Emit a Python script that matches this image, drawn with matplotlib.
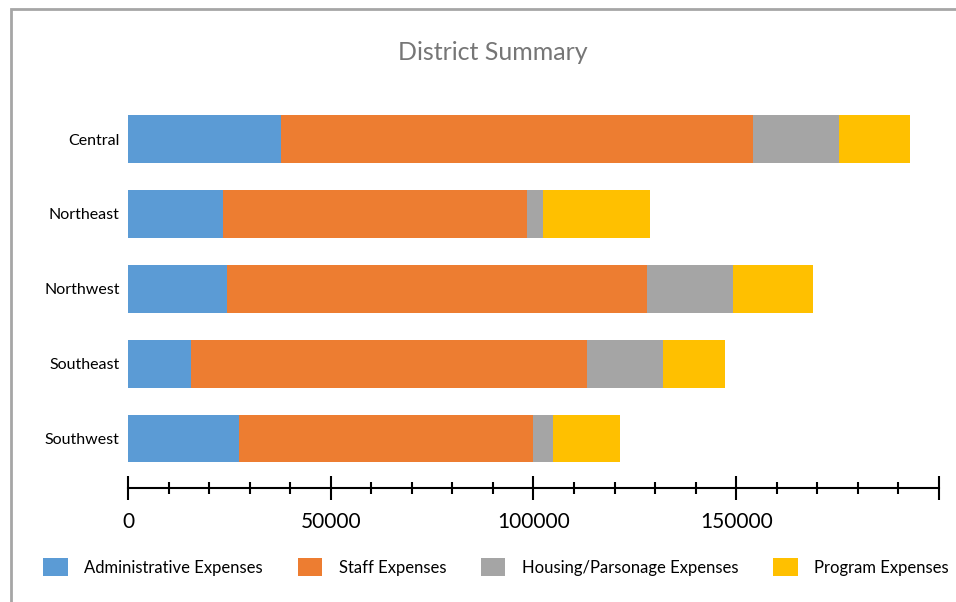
import matplotlib
matplotlib.use('Agg')
import matplotlib.pyplot as plt
from matplotlib.patches import Patch, Rectangle

plt.rcParams['font.family'] = ['Lato', 'DejaVu Sans']

# data (dollars)
districts = ['Central', 'Northeast', 'Northwest', 'Southeast', 'Southwest']
admin = [37700, 23400, 24400, 15600, 27400]
staff = [116400, 74900, 103600, 97600, 72500]
housing = [21200, 4000, 21200, 18800, 4900]
program = [17600, 26500, 19700, 15200, 16600]
major_ticks = [0, 50000, 100000, 150000, 200000]
major_labels = ['0', '50000', '100000', '150000', '']

series = [('Administrative Expenses', admin, '#5B9BD5'),
          ('Staff Expenses', staff, '#ED7D31'),
          ('Housing/Parsonage Expenses', housing, '#A5A5A5'),
          ('Program Expenses', program, '#FFC000')]

fig = plt.figure(figsize=(9.56, 6.02), dpi=100)
ax = fig.add_axes([0.1339, 0.1894, 0.8483, 0.6618])

# outer chart frame (open on right/bottom like the crop)
fig.patches.append(Rectangle((11/956, -0.1), 1.2, 1 - 9/602 + 0.1, transform=fig.transFigure,
                             fill=False, edgecolor='#A6A6A6', linewidth=2))

ypos = list(range(len(districts)))[::-1]
left = [0] * len(districts)
for name, vals, col in series:
    ax.barh(ypos, vals, left=left, height=0.637, color=col, label=name)
    left = [a + b for a, b in zip(left, vals)]

ax.set_xlim(0, 200000)
ax.set_ylim(-0.66, 4.66)
ax.set_yticks(ypos)
ax.set_yticklabels(districts, fontsize=11.5)
ax.tick_params(axis='y', length=0, pad=6)

ax.set_xticks(major_ticks)
ax.set_xticklabels(major_labels)
ax.set_xticks(range(0, 200001, 10000), minor=True)
ax.tick_params(axis='x', which='major', direction='inout', length=17, width=1.5, labelsize=15, pad=9)
ax.tick_params(axis='x', which='minor', direction='inout', length=8, width=1.5)
for s in ['top', 'right', 'left']:
    ax.spines[s].set_visible(False)
ax.spines['bottom'].set_linewidth(1.5)

fig.text(0.515, 1 - 52/602, 'District Summary', ha='center', va='center',
         fontsize=18, color='#767676')

handles = [Patch(facecolor=c, edgecolor='none') for _, _, c in series]
fig.legend(handles, [n for n, _, _ in series], loc='center', ncol=4,
           bbox_to_anchor=(0.519, 1 - 567/602), frameon=False, fontsize=12,
           handlelength=1.45, handleheight=1.35, handletextpad=1.0, columnspacing=2.1)

fig.savefig('out.png', dpi=100)
